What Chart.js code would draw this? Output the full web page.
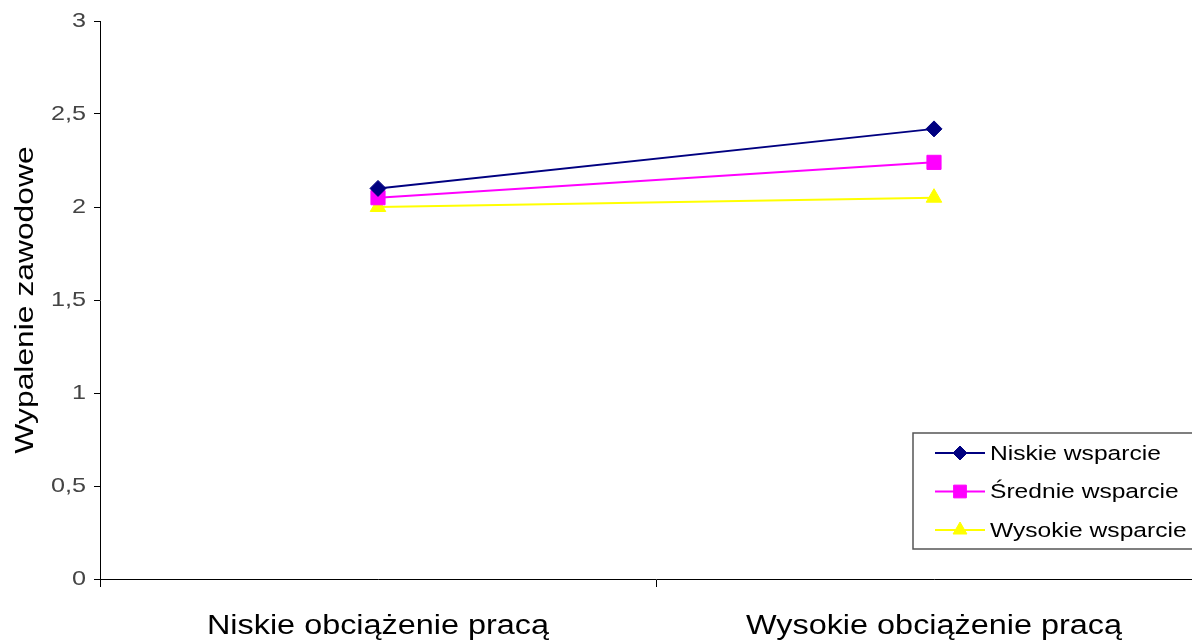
<!DOCTYPE html>
<html lang="pl">
<head>
<meta charset="utf-8">
<title>Wypalenie zawodowe</title>
<script src="https://cdn.jsdelivr.net/npm/chart.js@4/dist/chart.umd.min.js"></script>
<style>
  html, body { margin: 0; padding: 0; background: #fff; overflow: hidden; }
  #wrap { width: 1240px; height: 642px; position: relative; }
</style>
</head>
<body>
<div id="wrap"><canvas id="chart" width="1240" height="642"></canvas></div>
<script>
// Kategorie obciążenia pracą
const categories = ['Niskie obciążenie pracą', 'Wysokie obciążenie pracą'];

// Średnie wypalenie zawodowe dla poziomów wsparcia
const niskieWsparcie = [2.10, 2.42];
const srednieWsparcie = [2.05, 2.24];
const wysokieWsparcie = [2.00, 2.05];

const seriesNames = ['Niskie wsparcie', 'Średnie wsparcie', 'Wysokie wsparcie'];

// Etykiety osi Y (przecinek dziesiętny)
const yTickLabels = ['0', '0,5', '1', '1,5', '2', '2,5', '3'];

const FONT = '"Liberation Sans", Arial, Helvetica, sans-serif';

// Szerszy krój: każdy napis rozciągnięty poziomo wzdłuż linii tekstu
const TEXT_STRETCH = 1.2;
const canvas = document.getElementById('chart');
const ctx2d = canvas.getContext('2d');
const nativeFillText = CanvasRenderingContext2D.prototype.fillText;
const nativeMeasureText = CanvasRenderingContext2D.prototype.measureText;
ctx2d.fillText = function (text, x, y, maxWidth) {
  this.save();
  this.translate(x, y);
  this.scale(TEXT_STRETCH, 1);
  if (maxWidth === undefined) {
    nativeFillText.call(this, text, 0, 0);
  } else {
    nativeFillText.call(this, text, 0, 0, maxWidth / TEXT_STRETCH);
  }
  this.restore();
};

// Legenda w ramce, rysowana w prawym dolnym rogu obszaru wykresu
const boxLegend = {
  id: 'boxLegend',
  afterDraw(chart) {
    const { ctx, chartArea } = chart;
    const x0 = chartArea.left + 813;
    const y0 = chartArea.top + 412;
    const w = 290, h = 116;
    ctx.save();
    ctx.strokeStyle = '#555';
    ctx.lineWidth = 1.5;
    ctx.strokeRect(x0, y0, w, h);
    ctx.font = '20.5px ' + FONT;
    ctx.textBaseline = 'middle';
    ctx.textAlign = 'left';
    chart.data.datasets.forEach((ds, i) => {
      const cy = y0 + 20 + i * 38.5;
      ctx.strokeStyle = ds.borderColor;
      ctx.lineWidth = ds.borderWidth;
      ctx.beginPath();
      ctx.moveTo(x0 + 22, cy);
      ctx.lineTo(x0 + 72, cy);
      ctx.stroke();
      ctx.fillStyle = ds.pointBackgroundColor;
      ctx.strokeStyle = ds.pointBorderColor;
      ctx.lineWidth = 1;
      Chart.helpers.drawPoint(ctx, {
        pointStyle: ds.pointStyle,
        radius: ds.legendRadius,
        rotation: 0,
        borderWidth: 1
      }, x0 + 47, cy);
      ctx.fillStyle = '#000';
      ctx.fillText(ds.label, x0 + 77, cy + 1);
    });
    ctx.restore();
  }
};

function series(label, data, color, style, radius, legendRadius) {
  return {
    label, data,
    borderColor: color,
    backgroundColor: color,
    pointBackgroundColor: color,
    pointBorderColor: color,
    borderWidth: 2,
    pointStyle: style,
    pointRadius: radius,
    pointHoverRadius: radius,
    pointBorderWidth: 1,
    legendRadius,
    tension: 0,
    fill: false
  };
}

new Chart(canvas, {
  type: 'line',
  data: {
    labels: categories,
    datasets: [
      series(seriesNames[0], niskieWsparcie, '#000080', 'rectRot', 8, 7),
      series(seriesNames[1], srednieWsparcie, '#FF00FF', 'rect', 10, 9),
      series(seriesNames[2], wysokieWsparcie, '#FFFF00', 'triangle', 9, 8)
    ]
  },
  options: {
    responsive: false,
    animation: false,
    events: [],
    layout: { padding: { top: 21, right: 28, left: 0, bottom: 0 } },
    plugins: { legend: { display: false }, tooltip: { enabled: false } },
    scales: {
      x: {
        offset: true,
        grid: { display: true, offset: true, drawOnChartArea: false, drawTicks: true, tickLength: 8, color: '#000' },
        border: { display: true, color: '#000', width: 1 },
        ticks: { color: '#000', font: { family: FONT, size: 27 }, padding: 23, maxRotation: 0, autoSkip: false },
        afterFit(scale) { scale.height = 63; }
      },
      y: {
        min: 0, max: 3,
        grid: { display: true, drawOnChartArea: false, drawTicks: true, tickLength: 6, color: '#000' },
        border: { display: true, color: '#000', width: 1 },
        ticks: {
          stepSize: 0.5,
          color: '#444',
          font: { family: FONT, size: 21 },
          padding: 8,
          callback: (v, i) => yTickLabels[i]
        },
        title: {
          display: true,
          text: 'Wypalenie zawodowe',
          color: '#000',
          font: { family: FONT, size: 26.5 },
          padding: { top: 10, bottom: 0 }
        },
        afterFit(scale) { scale.width = 100; }
      }
    }
  },
  plugins: [boxLegend]
});
</script>
</body>
</html>
